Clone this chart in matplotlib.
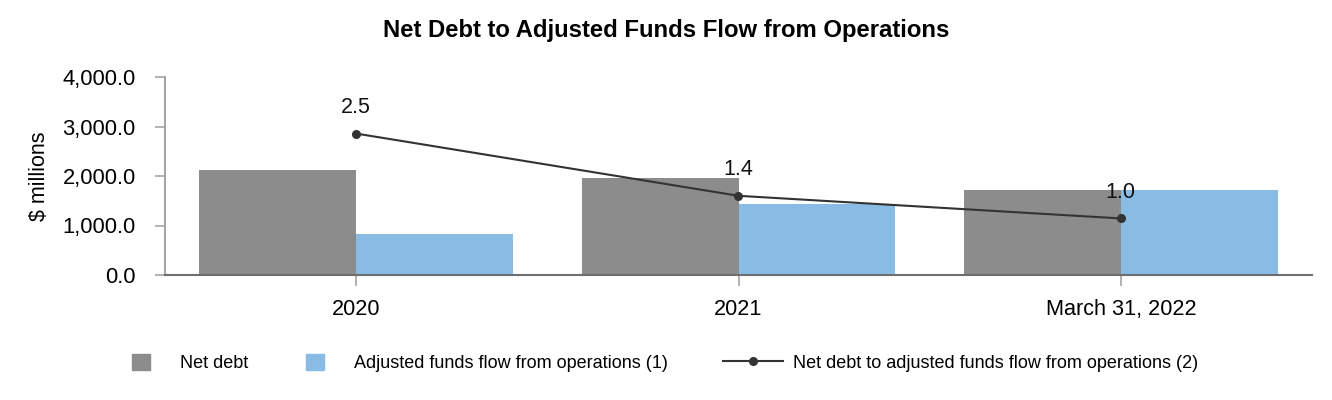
import matplotlib.pyplot as plt
import numpy as np
from matplotlib.patches import Patch
from matplotlib.lines import Line2D

plt.rcParams['font.family'] = ['Liberation Sans', 'DejaVu Sans']

# data
periods = ['2020', '2021', 'March 31, 2022']
net_debt = [2130, 1960, 1720]          # $ millions
affo = [830, 1435, 1720]               # $ millions
ratio = [2.5, 1.4, 1.0]                # net debt / AFFO
ratio_labels = ['2.5', '1.4', '1.0']

c_debt = '#8c8c8c'
c_affo = '#89bce5'
c_line = '#333333'
c_axis = '#a6a6a6'

fig = plt.figure(figsize=(13.32, 4.0), dpi=100)
ax = fig.add_axes([165/1332, 1-275/400, (1312-165)/1332, (275-77)/400])

x = np.arange(len(periods))
w = 0.41
ax.bar(x - w/2, net_debt, w, color=c_debt, zorder=2)
ax.bar(x + w/2, affo, w, color=c_affo, zorder=2)

ax.set_xlim(-0.5, 2.5)
ax.set_ylim(0, 4000)
ax.set_yticks([0, 1000, 2000, 3000, 4000])
ax.set_yticklabels([f'{v:,.1f}' for v in [0, 1000, 2000, 3000, 4000]])
ax.set_xticks(x)
ax.set_xticklabels(periods)
ax.tick_params(axis='y', length=7, width=1.2, color=c_axis, pad=14, labelsize=15.8)
ax.tick_params(axis='x', length=8, width=1.2, color=c_axis, pad=9, labelsize=15.6)
ax.set_ylabel('$ millions', fontsize=15.5, labelpad=9)

for s in ['top', 'right']:
    ax.spines[s].set_visible(False)
ax.spines['left'].set_color(c_axis)
ax.spines['left'].set_linewidth(1.5)
ax.spines['bottom'].set_color('#6e6e6e')
ax.spines['bottom'].set_linewidth(1.5)

# ratio on a hidden secondary axis
ax2 = ax.twinx()
ax2.set_ylim(0, 3.5)
ax2.axis('off')
ax2.plot(x, ratio, color=c_line, lw=1.5, marker='o', ms=5.5, zorder=3)
for xi, r, lab in zip(x, ratio, ratio_labels):
    ax2.annotate(lab, (xi, r), xytext=(0, 19), textcoords='offset points',
                 ha='center', va='center', fontsize=15.5, color='#111111')

fig.text(0.5, 1-30/400, 'Net Debt to Adjusted Funds Flow from Operations',
         ha='center', va='center', fontsize=17.2, fontweight='bold')

# legend, three entries placed separately like the reference
leg_kw = dict(frameon=False, fontsize=13, handletextpad=1.65, borderaxespad=0,
              borderpad=0, loc='center left', handlelength=1.0, handleheight=1.0)
l1 = fig.legend(handles=[Patch(color=c_debt, label='Net debt')],
                bbox_to_anchor=(132/1332, 1-363/400), **leg_kw)
l2 = fig.legend(handles=[Patch(color=c_affo, label='Adjusted funds flow from operations (1)')],
                bbox_to_anchor=(306/1332, 1-363/400), **leg_kw)
leg_kw.update(handlelength=3.3, handletextpad=0.55)
l3 = fig.legend(handles=[Line2D([], [], color=c_line, lw=1.5, marker='o', ms=5.5,
                                label='Net debt to adjusted funds flow from operations (2)')],
                bbox_to_anchor=(723/1332, 1-363/400), **leg_kw)

fig.savefig('out.png', dpi=100)
